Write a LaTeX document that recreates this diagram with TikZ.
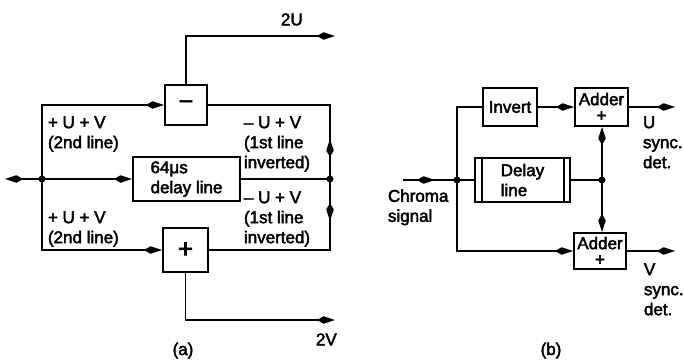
\documentclass[tikz,border=0pt]{standalone}
\usepackage{fontspec}
\setmainfont{Liberation Sans}[FakeBold=2.5]
\usetikzlibrary{arrows.meta,decorations.markings}
\begin{document}
\begin{tikzpicture}[x=1pt,y=-1pt,line width=1.9pt,
  >={Kite[length=18pt,width=7.5pt,inset=6.5pt]},
  txt/.style={inner sep=0pt,font=\fontsize{17}{20}\selectfont,align=left},
  blk/.style={draw,inner sep=0pt,font=\fontsize{17}{20}\selectfont,align=left},
  addr/.style={draw,inner sep=0pt,font=\fontsize{17}{16}\selectfont,align=center},
  midarr/.style={postaction={decorate},decoration={markings,mark=at position #1 with {\arrow{>}}}},
  dot/.style={fill,circle,inner sep=0pt,minimum size=7pt}]
\useasboundingbox (0,0) rectangle (684,359);

% ---------- (a) ----------
\coordinate (inA) at (5,179);
\coordinate (jL) at (42,179);
\coordinate (jR) at (330,179);
\coordinate (outU) at (335,36);
\coordinate (outV) at (335,320);
\node[blk,minimum width=42pt,minimum height=40pt] (minus) at (186,105) {\fontsize{25}{25}\selectfont −};
\node[blk,minimum width=107pt,minimum height=44pt] (delA) at (186.5,179) {64μs\\delay line};
\node[blk,minimum width=45pt,minimum height=44pt] (plus) at (185.5,250) {\fontsize{26}{26}\selectfont +};

\draw[<-] (inA) -- (jL);
\draw[->] (jL) |- (minus.west);
\draw[->] (jL) -- (delA.west);
\draw[->] (jL) |- (plus.west);
\draw (delA.east) -- (jR);
\draw[midarr=40pt] (jR) |- (minus.east);
\draw[midarr=42pt] (jR) |- (plus.east);
\draw[->] (minus.north) |- (outU);
\draw[->] (plus.south) |- (outV);
\node[dot] at (jL) {};
\node[dot] at (jR) {};

\node[txt,anchor=north west] (l2u) at (280,12.5) {2U};
\node[txt,anchor=north west] (la1) at (47,115.5) {+ U + V\\(2nd line)};
\node[txt,anchor=north west] (la2) at (243,115.5) {– U + V\\(1st line\\inverted)};
\node[txt,anchor=north west] (la3) at (47,210.5) {+ U + V\\(2nd line)};
\node[txt,anchor=north west] (la4) at (243,190.5) {– U + V\\(1st line\\inverted)};
\node[txt,anchor=north west] (l2v) at (315,332.5) {2V};
\node[txt,anchor=base] (capa) at (183,355) {(a)};

% ---------- (b) ----------
\coordinate (inB) at (403,180);
\coordinate (jL2) at (457,180);
\coordinate (jR2) at (602,180);
\coordinate (oU) at (675,107);
\coordinate (oV) at (675,251);
\node[blk,minimum width=54pt,minimum height=38pt] (inv) at (510,107) {Invert};
\node[addr,minimum width=53pt,minimum height=38pt] (addU) at (601.5,107) {Adder\\+};
\node[blk,minimum width=95pt,minimum height=44pt] (delB) at (522.5,180) {Delay\\line};
\node[addr,minimum width=52pt,minimum height=36pt] (addV) at (600,251) {Adder\\+};
\draw ([xshift=8pt]delB.north west) -- ([xshift=8pt]delB.south west);
\draw ([xshift=-7pt]delB.north east) -- ([xshift=-7pt]delB.south east);

\draw[midarr=32pt] (inB) -- (jL2);
\draw (jL2) |- (inv.west);
\draw[->] (inv) -- (addU);
\draw (jL2) -- (delB);
\draw (delB) -- (jR2);
\draw[->] (jR2) -- (jR2 |- addU.south);
\draw[->] (jR2) -- (jR2 |- addV.north);
\draw[->] (jL2) |- (addV.west);
\draw[->] (addU) -- (oU);
\draw[->] (addV) -- (oV);
\node[dot] at (jL2) {};
\node[dot] at (jR2) {};

\node[txt,anchor=north west] (lchr) at (387,188.5) {Chroma\\signal};
\node[txt,anchor=north west] (lu) at (642,115.5) {U\\sync.\\det.};
\node[txt,anchor=north west] (lv) at (643,262.5) {V\\sync.\\det.};
\node[txt,anchor=base] (capb) at (551,355) {(b)};
\end{tikzpicture}
\end{document}
